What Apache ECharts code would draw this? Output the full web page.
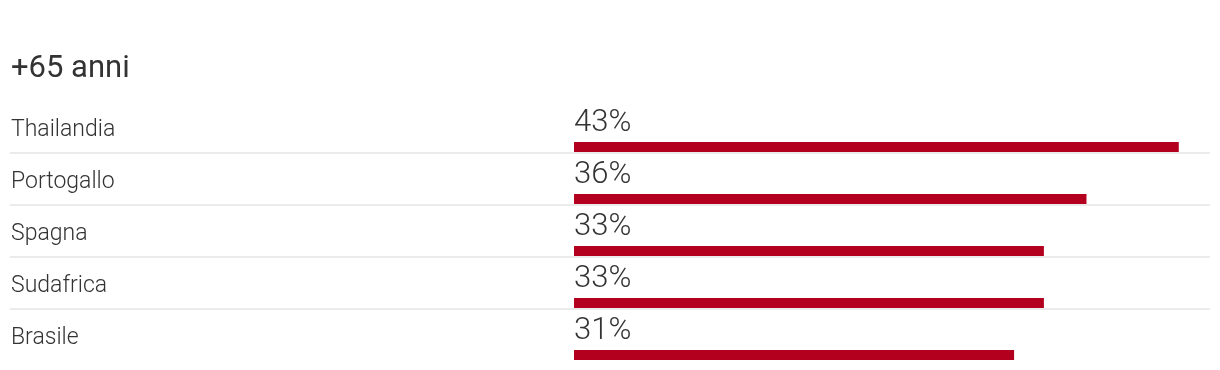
<!DOCTYPE html>
<html>
<head>
<meta charset="utf-8">
<script src="https://cdn.jsdelivr.net/npm/echarts@6/dist/echarts.min.js"></script>
<style>
html,body{margin:0;padding:0;background:#fff;}
#chart{width:1220px;height:370px;}
</style>
</head>
<body>
<div id="chart"></div>
<script>
const title = '+65 anni';
const countries = ['Thailandia', 'Portogallo', 'Spagna', 'Sudafrica', 'Brasile'];
const values = [42.6, 36.1, 33.1, 33.1, 31.0];
const valueMax = 44.8;

const chart = echarts.init(document.getElementById('chart'), null, {renderer: 'canvas'});
const font = 'Roboto, "Noto Sans", sans-serif';

chart.setOption({
  animation: false,
  backgroundColor: '#fff',
  title: {
    text: title,
    left: 11,
    top: 54,
    padding: 0,
    textStyle: {fontFamily: font, fontSize: 31, fontWeight: 400, color: '#333'}
  },
  grid: [
    {left: 10, right: 10, top: 101, height: 260, containLabel: false},
    {left: 574, right: 10, top: 101, height: 260, containLabel: false}
  ],
  xAxis: [
    {gridIndex: 0, type: 'value', show: false, min: 0, max: 1},
    {gridIndex: 1, type: 'value', show: false, min: 0, max: valueMax}
  ],
  yAxis: [
    {
      gridIndex: 0, type: 'category', data: countries, inverse: true,
      axisLine: {show: false}, axisTick: {show: false},
      axisLabel: {
        inside: true, margin: 1,
        formatter: '{a|{value}}',
        rich: {a: {padding: [6, 0, 0, 0], fontFamily: font, fontSize: 23, fontWeight: 300, color: '#333'}}
      },
      splitLine: {show: true, showMinLine: false, showMaxLine: false, lineStyle: {color: '#ebebeb', width: 2}}
    },
    {
      gridIndex: 1, type: 'category', data: countries, inverse: true, show: false
    }
  ],
  series: [{
    type: 'custom',
    xAxisIndex: 1,
    yAxisIndex: 1,
    data: values.map((v, i) => [v, i]),
    renderItem: function (params, api) {
      const v = api.value(0);
      const c = api.value(1);
      const start = api.coord([0, c]);
      const end = api.coord([v, c]);
      const band = api.size([0, 1])[1];
      const bottom = start[1] + band / 2;
      return {
        type: 'group',
        children: [
          {
            type: 'rect',
            shape: {x: start[0], y: bottom - 11, width: end[0] - start[0], height: 10},
            style: {fill: '#b3001e'}
          },
          {
            type: 'text',
            x: start[0],
            y: start[1] - 4,
            style: {
              text: Math.round(v) + '%',
              fontFamily: font, fontSize: 31, fontWeight: 300,
              fill: '#333', align: 'left', verticalAlign: 'middle'
            }
          }
        ]
      };
    }
  }]
});
</script>
</body>
</html>
